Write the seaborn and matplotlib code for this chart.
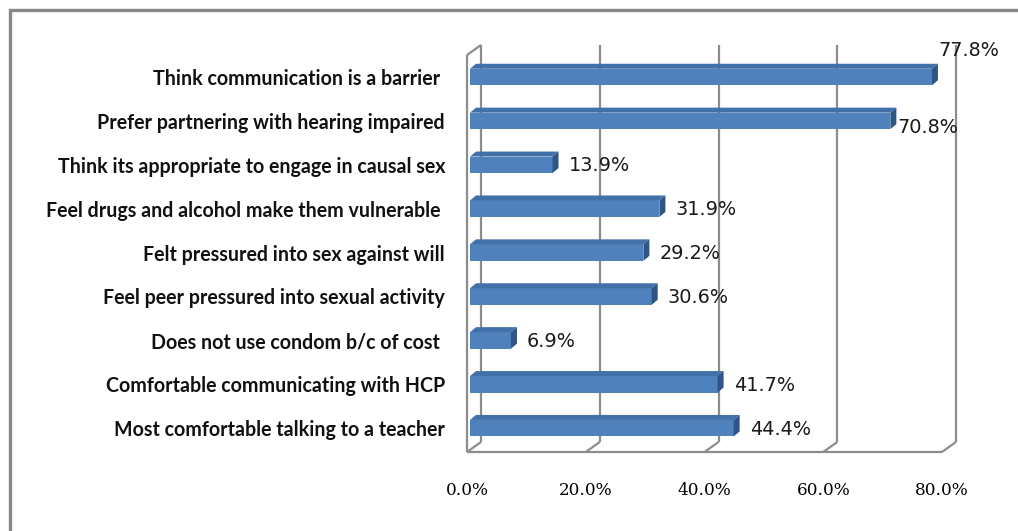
import matplotlib
matplotlib.use("Agg")
import matplotlib.pyplot as plt
from matplotlib.patches import Polygon
from matplotlib.lines import Line2D
from matplotlib.transforms import ScaledTranslation
import seaborn as sns
import pandas as pd

# --- data -------------------------------------------------------------
categories = [
    "Think communication is a barrier ",
    "Prefer partnering with hearing impaired",
    "Think its appropriate to engage in causal sex",
    "Feel drugs and alcohol make them vulnerable ",
    "Felt pressured into sex against will",
    "Feel peer pressured into sexual activity",
    "Does not use condom b/c of cost ",
    "Comfortable communicating with HCP",
    "Most comfortable talking to a teacher",
]
values = [77.8, 70.8, 13.9, 31.9, 29.2, 30.6, 6.9, 41.7, 44.4]
x_ticks = [0, 20, 40, 60, 80]
x_tick_labels = ["0.0%", "20.0%", "40.0%", "60.0%", "80.0%"]

# --- figure / axes geometry ------------------------------------------
W_PX, H_PX, DPI = 1018, 531, 100
sns.set_theme(style="white")
plt.rcParams["font.family"] = ["DejaVu Sans"]

fig = plt.figure(figsize=(W_PX / DPI, H_PX / DPI), dpi=DPI)
fig.patch.set_facecolor("white")

X0_PX, SX = 470.0, 475.0 / 80.0        # pixel of x=0, pixels per percent
Y0_PX, SY = 77.0, 43.9                  # pixel of first bar centre, pixels per row
YLIM = (8.6, -1.0)
ax_left = X0_PX / W_PX
ax_w = 80 * SX / W_PX
top_px = Y0_PX + YLIM[1] * SY
bot_px = Y0_PX + YLIM[0] * SY
ax = fig.add_axes([ax_left, 1 - bot_px / H_PX, ax_w, (bot_px - top_px) / H_PX])

df = pd.DataFrame({"category": categories, "value": values})
BAR_H = 16.5 / SY
sns.barplot(data=df, x="value", y="category", orient="h", color="#4F81BD",
            saturation=1, width=BAR_H, errorbar=None, ax=ax, zorder=3,
            linewidth=0)

ax.set_xlim(0, 80)
ax.set_ylim(*YLIM)
ax.set_xlabel("")
ax.set_ylabel("")
for s in ax.spines.values():
    s.set_visible(False)
ax.patch.set_alpha(0)


def shift(x, y, dxp, dyp):
    """Move a data point by a pixel offset (dyp > 0 is downward)."""
    return x + dxp / SX, y + dyp / SY


# --- 3-D box walls -----------------------------------------------------
GRID = "#8C8C8C"
LW = 1.6
FRONT = (-3.0, 2.5)
BACK = (11.0, -7.5)
floor_y = (452 - FRONT[1] - Y0_PX) / SY
top_y = (45 - BACK[1] - Y0_PX) / SY


def seg(p, q, z=1):
    ax.add_line(Line2D([p[0], q[0]], [p[1], q[1]], color=GRID, lw=LW,
                       clip_on=False, zorder=z, solid_capstyle="butt"))


for t in x_ticks:
    # back-wall gridline
    seg(shift(t, floor_y, *BACK), shift(t, top_y, *BACK))
    # floor depth line
    seg(shift(t, floor_y, *FRONT), shift(t, floor_y, *BACK))
# floor front edge
seg(shift(0, floor_y, *FRONT), shift(80, floor_y, *FRONT))
# left side wall
seg(shift(0, floor_y, *FRONT), shift(0, top_y, *FRONT))
seg(shift(0, top_y, *FRONT), shift(0, top_y, *BACK))

# --- bar depth faces ---------------------------------------------------
DX, DY = 6.0, -5.0
TOP_C, SIDE_C = "#4270A8", "#2F5586"
for p in ax.patches:
    x0, x1 = p.get_x(), p.get_x() + p.get_width()
    yt, yb = p.get_y(), p.get_y() + p.get_height()
    yt, yb = min(yt, yb), max(yt, yb)
    top = [(x0, yt), (x1, yt), shift(x1, yt, DX, DY), shift(x0, yt, DX, DY)]
    side = [(x1, yt), (x1, yb), shift(x1, yb, DX, DY), shift(x1, yt, DX, DY)]
    ax.add_patch(Polygon(top, closed=True, fc=TOP_C, ec="none", zorder=3,
                         clip_on=False))
    ax.add_patch(Polygon(side, closed=True, fc=SIDE_C, ec="none", zorder=3,
                         clip_on=False))

# --- value labels ------------------------------------------------------
label_offsets = {0: (6, -27), 1: (7, 7)}
for i, v in enumerate(values):
    dxp, dyp = label_offsets.get(i, (16, 1))
    x, y = shift(v, i, dxp, dyp)
    ax.text(x, y, f"{v:.1f}%", ha="left", va="center", fontsize=13.9,
            family="DejaVu Sans", color="#1a1a1a", clip_on=False, zorder=5)

# --- tick labels -------------------------------------------------------
ax.tick_params(axis="y", length=0, pad=18)
for lab in ax.get_yticklabels():
    lab.set_fontfamily(["Lato", "DejaVu Sans"])
    lab.set_fontweight("bold")
    lab.set_fontsize(14.1)
    lab.set_color("#111111")

ax.set_xticks(x_ticks)
ax.set_xticklabels(x_tick_labels)
ax.tick_params(axis="x", length=0, pad=20)
xoff = ScaledTranslation(-3 / DPI, 0, fig.dpi_scale_trans)
for lab in ax.get_xticklabels():
    lab.set_fontfamily(["DejaVu Serif"])
    lab.set_fontsize(12.2)
    lab.set_color("#000000")
    lab.set_transform(lab.get_transform() + xoff)

# --- outer chart frame (left and top edges) ----------------------------
fx, fy = 9.5 / W_PX, 1 - 9.5 / H_PX
fig.add_artist(Line2D([fx, fx], [0, fy], transform=fig.transFigure,
                      color="#878787", lw=2.4))
fig.add_artist(Line2D([fx, 1], [fy, fy], transform=fig.transFigure,
                      color="#878787", lw=2.4))

fig.savefig("out.png", dpi=DPI, facecolor="white")
